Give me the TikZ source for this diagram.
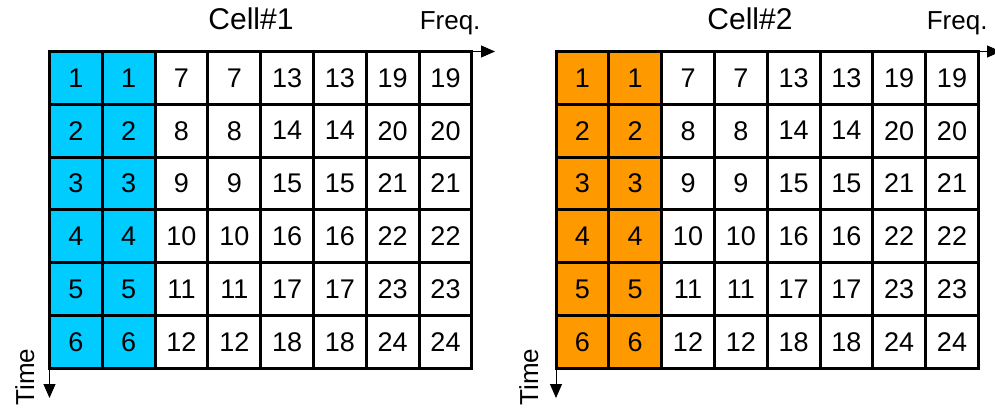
\documentclass[tikz,border=0pt]{standalone}
\usepackage{fontspec}
\setmainfont{Liberation Sans}
\usetikzlibrary{arrows.meta, positioning, calc}
\definecolor{ccyan}{HTML}{00CCFF}
\definecolor{corange}{HTML}{FF9900}
\tikzset{
  every picture/.style={x=1pt, y=-1pt, font=\fontsize{27}{31}\selectfont},
  cell/.style={draw, fill=#1, line width=3pt, minimum size=52.8pt, inner sep=0pt, outer sep=0pt},
  cell/.default=white,
  axis/.style={-{Triangle[length=14pt, width=12pt]}, line width=1pt},
  title/.style={font=\fontsize{30}{36}\selectfont, anchor=base},
  lab/.style={font=\fontsize{26}{30}\selectfont},
}
\begin{document}
\begin{tikzpicture}
  \useasboundingbox (0,0) rectangle (995,408);
  % resource grids
  \foreach \g/\ox/\col in {L/49.5/ccyan, R/556/corange} {
    \foreach \c in {0,...,7} \foreach \r in {0,...,5} {
      \pgfmathtruncatemacro\v{6*int(\c/2)+\r+1}
      \ifnum\c<2 \def\fc{\col}\else\def\fc{white}\fi
      \node[cell=\fc] (\g-\c-\r) at (\ox+52.8*\c+26.4, 51.5+52.8*\r+26.4) {\v};
    }
  }
  % axes
  \coordinate (Lf) at (495,51.5);
  \coordinate (Lt) at (49.5,398);
  \coordinate (Rf) at (1001,51.5);
  \coordinate (Rt) at (556,398);
  \draw[axis] (L-0-0.north west) -- (Lf);
  \draw[axis] (L-0-5.south west) -- (Lt);
  \draw[axis] (R-0-0.north west) -- (Rf);
  \draw[axis] (R-0-5.south west) -- (Rt);
  % labels
  \node[title] (t1) at (251,29) {Cell\#1};
  \node[title] (t2) at (750,29) {Cell\#2};
  \node[lab, anchor=base east] (f1) at (484,29) {Freq.};
  \node[lab, anchor=base east] (f2) at (991,29) {Freq.};
  \node[lab, rotate=90, anchor=base east] (tm1) at (34,345) {Time};
  \node[lab, rotate=90, anchor=base east] (tm2) at (538,345) {Time};
\end{tikzpicture}
\end{document}
